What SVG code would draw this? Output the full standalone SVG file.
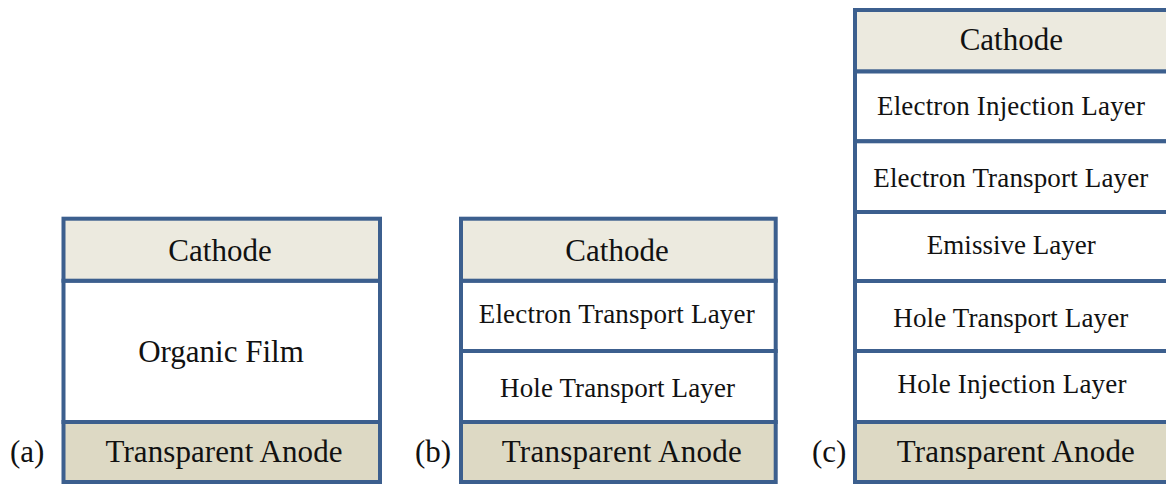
<svg xmlns="http://www.w3.org/2000/svg" width="1166" height="484" viewBox="0 0 1166 484">
<style>
.cat{fill:#eceadf;stroke:#3c5f8e;stroke-width:4}
.org{fill:#ffffff;stroke:#3c5f8e;stroke-width:4}
.ano{fill:#ddd9c4;stroke:#3c5f8e;stroke-width:4}
.big{font-family:"Liberation Serif","Times New Roman",serif;font-size:31px;fill:#111;text-anchor:middle}
.sm{font-family:"Liberation Serif","Times New Roman",serif;font-size:27px;fill:#111;text-anchor:middle}
.lbl{font-family:"Liberation Serif","Times New Roman",serif;font-size:31px;fill:#111}
</style>
<rect width="1166" height="484" fill="#ffffff"/>
<g id="panel-a">
  <g id="a-film"><rect class="org" x="63.5" y="280.7" width="316.5" height="141.3"/><text class="big" x="221" y="361.7">Organic Film</text></g>
  <g id="a-cathode"><rect class="cat" x="63.5" y="218.7" width="316.5" height="62"/><text class="big" x="220" y="260.7">Cathode</text></g>
  <g id="a-anode"><rect class="ano" x="63.5" y="422" width="316.5" height="60"/><text class="big" x="224" y="461.7" textLength="237" lengthAdjust="spacing">Transparent Anode</text></g>
  <text id="a-label" class="lbl" x="10" y="461.5">(a)</text>
</g>
<g id="panel-b">
  <g id="b-etl"><rect class="org" x="461" y="280.7" width="314.7" height="70.3"/><text class="sm" x="616.7" y="323.3" textLength="276" lengthAdjust="spacing">Electron  Transport Layer</text></g>
  <g id="b-htl"><rect class="org" x="461" y="351" width="314.7" height="71"/><text class="sm" x="617.5" y="396.7" textLength="235" lengthAdjust="spacing">Hole Transport Layer</text></g>
  <g id="b-cathode"><rect class="cat" x="461" y="218.7" width="314.7" height="62"/><text class="big" x="617" y="260.7">Cathode</text></g>
  <g id="b-anode"><rect class="ano" x="461" y="422" width="314.7" height="60"/><text class="big" x="621.7" y="461.7" textLength="240" lengthAdjust="spacing">Transparent Anode</text></g>
  <text id="b-label" class="lbl" x="415" y="461.5">(b)</text>
</g>
<g id="panel-c">
  <g id="c-eil"><rect class="org" x="855" y="71.3" width="315" height="70"/><text class="sm" x="1011" y="115" textLength="268" lengthAdjust="spacing">Electron Injection Layer</text></g>
  <g id="c-etl"><rect class="org" x="855" y="141.3" width="315" height="70.7"/><text class="sm" x="1010.8" y="187.3" textLength="275" lengthAdjust="spacing">Electron Transport Layer</text></g>
  <g id="c-eml"><rect class="org" x="855" y="212" width="315" height="69"/><text class="sm" x="1011.3" y="254" textLength="169" lengthAdjust="spacing">Emissive Layer</text></g>
  <g id="c-htl"><rect class="org" x="855" y="281" width="315" height="70"/><text class="sm" x="1010.8" y="326.7" textLength="235" lengthAdjust="spacing">Hole Transport Layer</text></g>
  <g id="c-hil"><rect class="org" x="855" y="351" width="315" height="71"/><text class="sm" x="1012" y="393.3" textLength="229" lengthAdjust="spacing">Hole Injection Layer</text></g>
  <g id="c-cathode"><rect class="cat" x="855" y="10" width="315" height="61.3"/><text class="big" x="1011.3" y="50">Cathode</text></g>
  <g id="c-anode"><rect class="ano" x="855" y="422" width="315" height="60"/><text class="big" x="1015.8" y="461.7" textLength="238" lengthAdjust="spacing">Transparent Anode</text></g>
  <text id="c-label" class="lbl" x="812" y="461.5">(c)</text>
</g>
<g id="connectors"/>
</svg>
